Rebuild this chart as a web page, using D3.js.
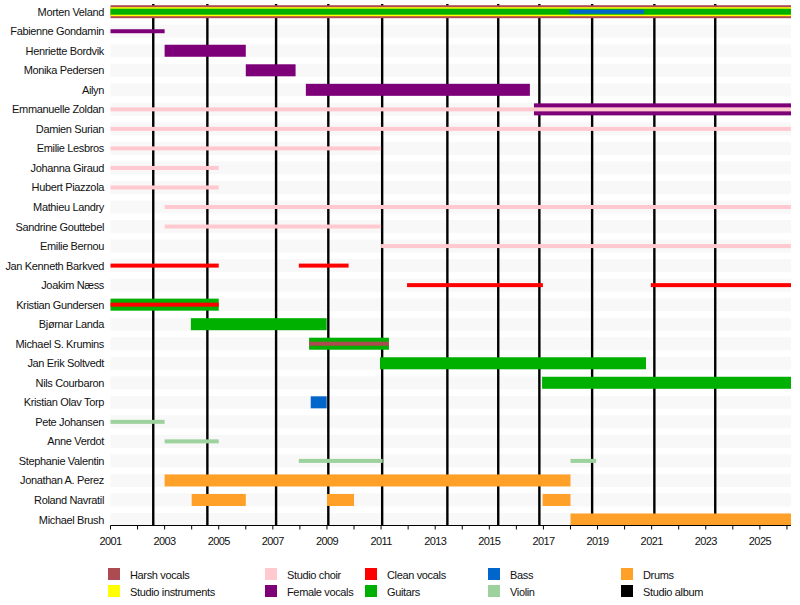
<!DOCTYPE html>
<html>
<head>
<meta charset="utf-8">
<script src="https://cdn.jsdelivr.net/npm/d3@7"></script>
<style>
  body { margin: 0; background: #fff; }
  text { font-family: "Liberation Sans", Arial, sans-serif; font-size: 11px; letter-spacing: -0.35px; fill: #111; }
  .tick-label { letter-spacing: -0.6px; }
</style>
</head>
<body>
<svg id="chart" width="800" height="605"></svg>
<script>
const END = 2026.15;

const members = [
  'Morten Veland', 'Fabienne Gondamin', 'Henriette Bordvik', 'Monika Pedersen', 'Ailyn',
  'Emmanuelle Zoldan', 'Damien Surian', 'Emilie Lesbros', 'Johanna Giraud', 'Hubert Piazzola',
  'Mathieu Landry', 'Sandrine Gouttebel', 'Emilie Bernou', 'Jan Kenneth Barkved', 'Joakim Næss',
  'Kristian Gundersen', 'Bjørnar Landa', 'Michael S. Krumins', 'Jan Erik Soltvedt', 'Nils Courbaron',
  'Kristian Olav Torp', 'Pete Johansen', 'Anne Verdot', 'Stephanie Valentin', 'Jonathan A. Perez',
  'Roland Navratil', 'Michael Brush'
];

// [member, start, end, thin]
const harshVocals = [
  ['Morten Veland', 2001, END, false],
  ['Michael S. Krumins', 2008.34, 2011.29, true]
];
const studioInstruments = [
  ['Morten Veland', 2001, END, false]
];
const studioChoir = [
  ['Emmanuelle Zoldan', 2001, END, true],
  ['Damien Surian', 2001, END, true],
  ['Emilie Lesbros', 2001, 2011, true],
  ['Johanna Giraud', 2001, 2005, true],
  ['Hubert Piazzola', 2001, 2005, true],
  ['Mathieu Landry', 2003, END, true],
  ['Sandrine Gouttebel', 2003, 2011, true],
  ['Emilie Bernou', 2011, END, true]
];
const femaleVocals = [
  ['Fabienne Gondamin', 2001, 2003, true],
  ['Henriette Bordvik', 2003, 2006, false],
  ['Monika Pedersen', 2006, 2007.84, false],
  ['Ailyn', 2008.22, 2016.5, false],
  ['Emmanuelle Zoldan', 2016.65, END, false]
];
const cleanVocals = [
  ['Jan Kenneth Barkved', 2001, 2005, true],
  ['Jan Kenneth Barkved', 2007.96, 2009.8, true],
  ['Joakim Næss', 2011.96, 2016.98, true],
  ['Joakim Næss', 2020.97, END, true],
  ['Kristian Gundersen', 2001, 2005, true]
];
const guitars = [
  ['Morten Veland', 2001, END, false],
  ['Kristian Gundersen', 2001, 2005, false],
  ['Bjørnar Landa', 2003.97, 2008.99, false],
  ['Michael S. Krumins', 2008.34, 2011.29, false],
  ['Jan Erik Soltvedt', 2010.96, 2020.79, false],
  ['Nils Courbaron', 2016.95, END, false]
];
const bass = [
  ['Morten Veland', 2017.97, 2020.71, false],
  ['Kristian Olav Torp', 2008.4, 2008.99, false]
];
const violin = [
  ['Pete Johansen', 2001, 2003, true],
  ['Anne Verdot', 2003, 2005, true],
  ['Stephanie Valentin', 2007.96, 2011.06, true],
  ['Stephanie Valentin', 2018, 2018.95, true]
];
const drums = [
  ['Jonathan A. Perez', 2003, 2018, false],
  ['Roland Navratil', 2004, 2006, false],
  ['Roland Navratil', 2009, 2010, false],
  ['Roland Navratil', 2016.97, 2018, false],
  ['Michael Brush', 2018, END, false]
];

const albums = [2002.58, 2004.58, 2007.12, 2009.05, 2011.04, 2013.45, 2015.33, 2016.85, 2018.8, 2021.1, 2023.35];
const tickYears = d3.range(2001, 2026, 2);

const roles = [
  { name: 'Harsh vocals', color: '#ad4b52', data: harshVocals },
  { name: 'Studio instruments', color: '#ffff00', data: studioInstruments },
  { name: 'Studio choir', color: '#ffc9cf', data: studioChoir },
  { name: 'Female vocals', color: '#7d0079', data: femaleVocals },
  { name: 'Clean vocals', color: '#ff0000', data: cleanVocals },
  { name: 'Guitars', color: '#00b000', data: guitars },
  { name: 'Bass', color: '#0066cc', data: bass },
  { name: 'Violin', color: '#9dd19d', data: violin },
  { name: 'Drums', color: '#ffa128', data: drums }
];

const svg = d3.select('#chart');
const x = d3.scaleLinear().domain([2001, END]).range([110.5, 791]);
const y = d3.scalePoint().domain(members).range([11.7, 519.5]);
const axisY = 525.5;

// row bands
svg.append('g').selectAll('rect').data(members).enter().append('rect')
  .attr('x', x(2001)).attr('width', x(END) - x(2001))
  .attr('y', d => y(d) - 6.5).attr('height', 13)
  .attr('fill', '#f8f8f8');

// studio albums
svg.append('g').selectAll('line').data(albums).enter().append('line')
  .attr('x1', d => x(d)).attr('x2', d => x(d))
  .attr('y1', 4).attr('y2', axisY)
  .attr('stroke', '#000').attr('stroke-width', 2.4);

// bars: main bars first (stacked narrower per role in the row), thin ones on top
const entries = [];
roles.forEach((r, ri) => r.data.forEach(d => entries.push({ member: d[0], start: d[1], end: d[2], thin: d[3], color: r.color, ri })));
const mainWidths = [13, 9, 6, 4];
const byMember = d3.group(entries.filter(e => !e.thin), e => e.member);
byMember.forEach(list => {
  const roleIdx = Array.from(new Set(list.map(e => e.ri)));
  list.forEach(e => {
    e.h = roleIdx.length === 1 ? 12 : mainWidths[roleIdx.indexOf(e.ri)];
  });
});
entries.filter(e => e.thin).forEach(e => { e.h = 4; });
const ordered = entries.filter(e => !e.thin).sort((a, b) => b.h - a.h).concat(entries.filter(e => e.thin));

svg.append('g').selectAll('rect').data(ordered).enter().append('rect')
  .attr('x', d => x(d.start))
  .attr('width', d => x(d.end) - x(d.start))
  .attr('y', d => y(d.member) - d.h / 2)
  .attr('height', d => d.h)
  .attr('fill', d => d.color);

// member labels
svg.append('g').selectAll('text').data(members).enter().append('text')
  .attr('x', 104).attr('y', d => y(d) + 4)
  .attr('text-anchor', 'end')
  .text(d => d);

// x axis
const axis = svg.append('g').attr('transform', `translate(0,${axisY})`);
axis.append('line').attr('x1', x(2001)).attr('x2', x(END)).attr('stroke', '#000').attr('stroke-width', 1);
axis.selectAll('.minor').data(d3.range(2001, 2027)).enter().append('line')
  .attr('x1', d => x(d)).attr('x2', d => x(d)).attr('y1', 0).attr('y2', 4)
  .attr('stroke', '#000');
axis.selectAll('text').data(tickYears).enter().append('text')
  .attr('class', 'tick-label')
  .attr('x', d => x(d)).attr('y', 19)
  .attr('text-anchor', 'middle')
  .text(d => d);

// legend
const legendItems = roles.map(r => ({ name: r.name, color: r.color })).concat([{ name: 'Studio album', color: '#000' }]);
const colX = [108, 265, 365, 488, 621];
const rowY = [568, 585];
const legend = svg.append('g').selectAll('g').data(legendItems).enter().append('g')
  .attr('transform', (d, i) => `translate(${colX[Math.floor(i / 2)]},${rowY[i % 2]})`);
legend.append('rect').attr('width', 12).attr('height', 12).attr('fill', d => d.color);
legend.append('text').attr('x', 22).attr('y', 10.5).text(d => d.name);
</script>
</body>
</html>
